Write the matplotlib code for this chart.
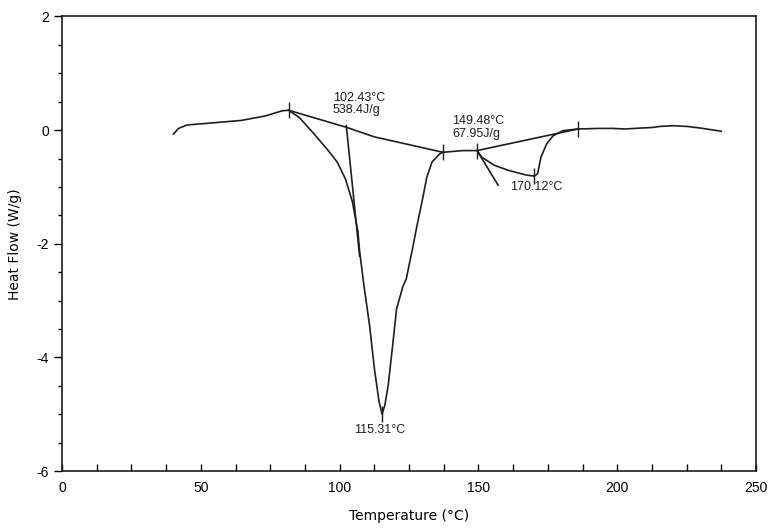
import matplotlib
matplotlib.use("Agg")
import matplotlib.pyplot as plt
from matplotlib.ticker import MultipleLocator

plt.rcParams["axes.unicode_minus"] = False

# DSC trace (temperature in °C, heat flow in W/g)
temp = [40.1, 42.0, 45.0, 52.4, 64.5, 73.3, 79.3, 81.6, 85.5, 90.3, 95.4,
        99.1, 102.1, 104.6, 106.6, 107.2, 108.8, 110.8, 112.5, 114.2, 115.3,
        116.3, 117.5, 119.1, 120.5, 122.8, 124.0, 126.2, 127.8, 129.8, 131.4,
        133.3, 136.0, 137.2, 144.5, 149.5, 151.3, 155.8, 160.9, 167.2, 170.1,
        171.3, 172.5, 174.6, 176.9, 180.4, 185.9, 193.3, 198.1, 203.1, 208.0,
        212.8, 215.4, 220.2, 225.2, 230.1, 237.5]
heat = [-0.07, 0.03, 0.09, 0.12, 0.17, 0.25, 0.34, 0.35, 0.22, -0.04, -0.33,
        -0.56, -0.86, -1.26, -1.79, -2.13, -2.75, -3.44, -4.19, -4.78, -5.00,
        -4.84, -4.49, -3.79, -3.15, -2.75, -2.62, -2.10, -1.70, -1.23, -0.83,
        -0.56, -0.42, -0.39, -0.36, -0.36, -0.48, -0.62, -0.71, -0.79, -0.81,
        -0.77, -0.48, -0.24, -0.10, -0.01, 0.02, 0.03, 0.03, 0.02, 0.035,
        0.047, 0.065, 0.077, 0.065, 0.035, -0.02]

# integration baselines and onset construction lines
base1_t = [81.6, 102.4, 112.6, 137.2]
base1_h = [0.35, 0.05, -0.12, -0.39]
drop_t = [102.4, 107.2]
drop_h = [0.08, -2.22]
base2_t = [149.5, 185.9]
base2_h = [-0.36, 0.02]
tang_t = [149.5, 157.1]
tang_h = [-0.36, -0.97]

mark_t = [81.6, 137.2, 149.5, 170.1, 185.9, 115.3]
mark_h = [0.35, -0.39, -0.36, -0.81, 0.02, -5.0]

ink = "#1e1e1e"

fig = plt.figure(figsize=(7.82, 5.30), dpi=100)
ax = fig.add_axes([0.0793, 0.1113, 0.8875, 0.8576])

ax.plot(temp, heat, color=ink, lw=1.2)
ax.plot(base1_t, base1_h, color=ink, lw=1.2)
ax.plot(drop_t, drop_h, color=ink, lw=1.2)
ax.plot(base2_t, base2_h, color=ink, lw=1.2)
ax.plot(tang_t, tang_h, color=ink, lw=1.2)
ax.plot(mark_t, mark_h, ls="none", marker="|", ms=11, mew=1.0, color=ink)

afont = dict(family="Liberation Sans", fontsize=9, color=ink)
ax.text(106.9, 0.24, "102.43°C\n538.4J/g", ha="center", va="bottom",
        multialignment="left", linespacing=1.1, **afont)
ax.text(149.9, -0.17, "149.48°C\n67.95J/g", ha="center", va="bottom",
        multialignment="left", linespacing=1.1, **afont)
ax.text(170.9, -0.90, "170.12°C", ha="center", va="top", **afont)
ax.text(114.6, -5.18, "115.31°C", ha="center", va="top", **afont)

ax.set_xlim(0, 250)
ax.set_ylim(-6, 2)
ax.xaxis.set_major_locator(MultipleLocator(50))
ax.xaxis.set_minor_locator(MultipleLocator(12.5))
ax.yaxis.set_major_locator(MultipleLocator(2))
ax.yaxis.set_minor_locator(MultipleLocator(0.5))
ax.tick_params(axis="x", which="both", direction="in", length=5, width=1, pad=7)
ax.tick_params(axis="y", which="major", direction="out", length=6, width=1)
ax.tick_params(axis="y", which="minor", direction="out", length=3, width=1)
for lab in ax.get_xticklabels() + ax.get_yticklabels():
    lab.set_family("Liberation Sans")
    lab.set_fontsize(10)
for sp in ax.spines.values():
    sp.set_linewidth(1.2)
    sp.set_color(ink)

ax.set_xlabel("Temperature (°C)", fontsize=10, family="DejaVu Sans", labelpad=10)
ax.set_ylabel("Heat Flow (W/g)", fontsize=10, family="DejaVu Sans", labelpad=10)

fig.savefig("out.png", dpi=100)
